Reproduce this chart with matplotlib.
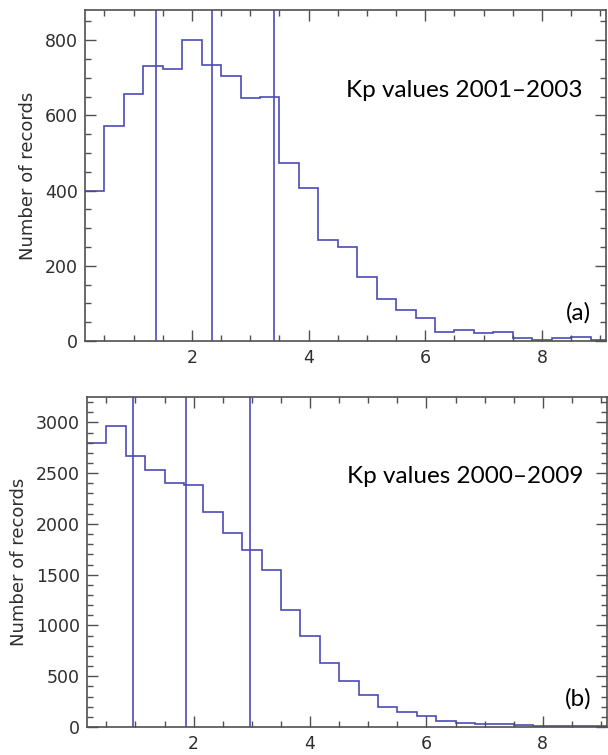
import numpy as np
import matplotlib
matplotlib.use('Agg')
import matplotlib.pyplot as plt
from matplotlib.ticker import MultipleLocator

# Kp bins of width 1/3, centred on 1/3, 2/3, ..., 9
kp_centers = np.arange(1, 28) / 3.0
counts_0103 = [400, 573, 658, 731, 723, 801, 733, 705, 647, 650, 474, 407, 269, 250,
               170, 113, 82, 60, 24, 30, 21, 24, 8, 3, 8, 10, 3]
counts_0009 = [2796, 2961, 2671, 2533, 2398, 2385, 2122, 1908, 1744, 1543, 1152, 892,
               632, 451, 316, 199, 150, 110, 55, 38, 33, 30, 15, 5, 8, 8, 5]
lines_0103 = [1.39, 2.34, 3.40]
lines_0009 = [0.96, 1.86, 2.96]
labels = ['Kp values 2001\u20132003', 'Kp values 2000\u20132009']
tags = ['(a)', '(b)']

edges = np.concatenate([kp_centers - 1/6, [kp_centers[-1] + 1/6]])

blue = '#4c4cb8'
axcol = '#505050'
txtcol = '#2e2e2e'
plt.rcParams.update({'font.family': 'DejaVu Sans', 'font.size': 12.5})

fig = plt.figure(figsize=(6.08, 7.55), dpi=100)
ax1 = fig.add_axes([0.1398, 0.5483, 0.857, 0.4384])
ax2 = fig.add_axes([0.1431, 0.0371, 0.855, 0.4371])

panels = [(ax1, counts_0103, lines_0103, 880, 200, 50),
          (ax2, counts_0009, lines_0009, 3250, 500, 100)]
for i, (ax, cnt, vl, ytop, ymaj, ymin) in enumerate(panels):
    ax.stairs(cnt, edges, baseline=None, color=blue, lw=1.2)
    for v in vl:
        ax.axvline(v, color=blue, lw=1.2)
    ax.set_xlim(1/6, 9.1)
    ax.set_ylim(0, ytop)
    ax.xaxis.set_major_locator(MultipleLocator(2))
    ax.xaxis.set_minor_locator(MultipleLocator(0.5))
    ax.yaxis.set_major_locator(MultipleLocator(ymaj))
    ax.yaxis.set_minor_locator(MultipleLocator(ymin))
    ax.tick_params(which='both', direction='in', top=True, right=True,
                   color=axcol, labelcolor=txtcol, width=1.0)
    ax.tick_params(which='major', length=8)
    ax.tick_params(which='minor', length=4)
    ax.tick_params(axis='x', which='major', pad=5.5)
    ax.tick_params(axis='y', which='major', pad=5)
    for s in ax.spines.values():
        s.set_color(axcol)
        s.set_linewidth(1.2)
    ax.set_ylabel('Number of records', color=txtcol, fontsize=13, labelpad=6)
    ax.text(0.501, 0.758, labels[i], transform=ax.transAxes, family='Lato',
            fontsize=17.5, ha='left', va='center', color='black')
    ax.text(0.971, 0.086, tags[i], transform=ax.transAxes, family='Lato',
            fontsize=17.5, ha='right', va='center', color='black')

fig.savefig('out.png', dpi=100)
